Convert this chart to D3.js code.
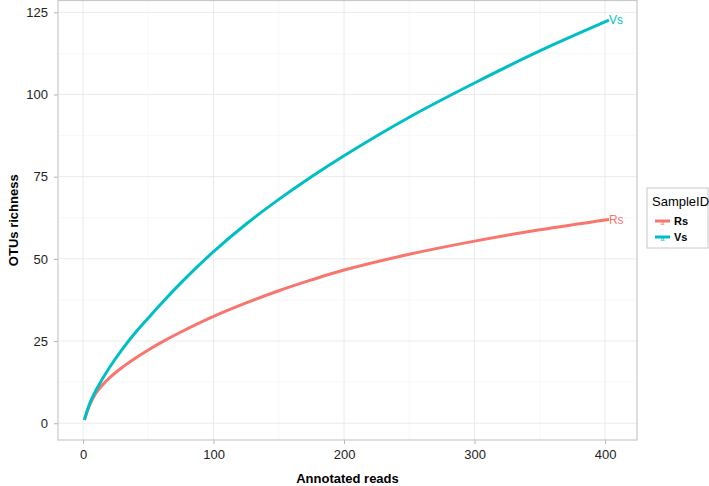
<!DOCTYPE html>
<html>
<head>
<meta charset="utf-8">
<script src="https://cdn.jsdelivr.net/npm/d3@7"></script>
<style>
  body { margin: 0; background: #fff; }
  text { font-family: "Liberation Sans", Arial, sans-serif; }
</style>
</head>
<body>
<div id="chart"></div>
<script>
// data
var reads = [1, 5, 10, 20, 30, 40, 50, 60, 75, 100, 125, 150, 175, 200, 250, 300, 350, 403]
var vsRichness = [1, 5.9, 10.1, 16.8, 22.5, 27.5, 32.0, 36.4, 42.7, 52.2, 60.6, 68.1, 75.0, 81.4, 93.1, 103.5, 113.25, 122.6]
var rsRichness = [1, 5.4, 9.2, 13.7, 17.0, 19.8, 22.3, 24.6, 27.75, 32.5, 36.6, 40.3, 43.6, 46.6, 51.4, 55.4, 58.85, 62.0]
var sampleIds = ["Rs", "Vs"]
var colors = ["#F8766D", "#00BFC4"]
var xTicks = [0, 100, 200, 300, 400]
var yTicks = [0, 25, 50, 75, 100, 125]

var width = 709
var height = 486
var panel = { left: 58, top: 0.5, right: 637, bottom: 440 }

var svg = d3.select("#chart")
  .append("svg")
  .attr("width", width)
  .attr("height", height)

var x = d3.scaleLinear()
  .domain([-19.2, 424.5])
  .range([panel.left, panel.right])

var y = d3.scaleLinear()
  .domain([-5.1, 128.6])
  .range([panel.bottom, panel.top])

var series = [
  { id: sampleIds[0], color: colors[0], values: rsRichness },
  { id: sampleIds[1], color: colors[1], values: vsRichness }
]

// grid
var grid = svg.append("g")
var minorX = xTicks.slice(0, -1).map(function (d) { return d + 50 })
var minorY = yTicks.slice(0, -1).map(function (d) { return d + 12.5 })

grid.selectAll(".minx").data(minorX).enter().append("line")
  .attr("x1", function (d) { return x(d) }).attr("x2", function (d) { return x(d) })
  .attr("y1", panel.top).attr("y2", panel.bottom)
  .attr("stroke", "#f3f3f3").attr("stroke-width", 0.6)
grid.selectAll(".miny").data(minorY).enter().append("line")
  .attr("y1", function (d) { return y(d) }).attr("y2", function (d) { return y(d) })
  .attr("x1", panel.left).attr("x2", panel.right)
  .attr("stroke", "#f3f3f3").attr("stroke-width", 0.6)
grid.selectAll(".majx").data(xTicks).enter().append("line")
  .attr("x1", function (d) { return x(d) }).attr("x2", function (d) { return x(d) })
  .attr("y1", panel.top).attr("y2", panel.bottom)
  .attr("stroke", "#ebebeb").attr("stroke-width", 1)
grid.selectAll(".majy").data(yTicks).enter().append("line")
  .attr("y1", function (d) { return y(d) }).attr("y2", function (d) { return y(d) })
  .attr("x1", panel.left).attr("x2", panel.right)
  .attr("stroke", "#ebebeb").attr("stroke-width", 1)

// axes
var xAxis = svg.append("g")
  .attr("transform", "translate(0," + panel.bottom + ")")
  .call(d3.axisBottom(x).tickValues(xTicks).tickSize(4).tickPadding(6))
var yAxis = svg.append("g")
  .attr("transform", "translate(" + panel.left + ",0)")
  .call(d3.axisLeft(y).tickValues(yTicks).tickSize(4).tickPadding(6))

;[xAxis, yAxis].forEach(function (a) {
  a.select(".domain").remove()
  a.selectAll("line").attr("stroke", "#b3b3b3")
  a.selectAll("text").attr("fill", "#222").style("font-size", "13px")
    .style("font-family", "Liberation Sans, Arial, sans-serif")
})

// panel border
svg.append("rect")
  .attr("x", panel.left).attr("y", panel.top)
  .attr("width", panel.right - panel.left)
  .attr("height", panel.bottom - panel.top)
  .attr("fill", "none")
  .attr("stroke", "#c8c8c8")
  .attr("stroke-width", 1.2)

// curves
var line = d3.line()
  .x(function (d, i) { return x(reads[i]) })
  .y(function (d) { return y(d) })
  .curve(d3.curveCatmullRom.alpha(0.5))

svg.append("g").selectAll("path")
  .data(series)
  .enter()
  .append("path")
  .attr("d", function (d) { return line(d.values) })
  .attr("fill", "none")
  .attr("stroke", function (d) { return d.color })
  .attr("stroke-width", 3)
  .attr("stroke-linecap", "butt")

// end labels
svg.append("g").selectAll("text")
  .data(series)
  .enter()
  .append("text")
  .attr("x", function (d) { return x(reads[reads.length - 1]) })
  .attr("y", function (d) { return y(d.values[d.values.length - 1]) })
  .attr("dy", "0.35em")
  .attr("fill", function (d) { return d.color })
  .style("font-size", "12px")
  .text(function (d) { return d.id })

// axis titles
svg.append("text")
  .attr("x", (panel.left + panel.right) / 2)
  .attr("y", 483)
  .attr("text-anchor", "middle")
  .style("font-size", "13px")
  .style("font-weight", "bold")
  .text("Annotated reads")

svg.append("text")
  .attr("transform", "translate(18," + (panel.top + panel.bottom) / 2 + ") rotate(-90)")
  .attr("text-anchor", "middle")
  .style("font-size", "13px")
  .style("font-weight", "bold")
  .text("OTUs richness")

// legend
var legend = svg.append("g").attr("transform", "translate(647,188)")
legend.append("rect")
  .attr("x", 0).attr("y", 0)
  .attr("width", 61).attr("height", 60)
  .attr("fill", "#fff")
  .attr("stroke", "#c8c8c8")
  .attr("stroke-width", 1)
legend.append("text")
  .attr("x", 5).attr("y", 18)
  .style("font-size", "13px")
  .text("SampleID")

var keys = legend.selectAll(".key")
  .data(series)
  .enter()
  .append("g")
  .attr("transform", function (d, i) { return "translate(0," + (33 + i * 16) + ")" })
keys.append("line")
  .attr("x1", 8).attr("x2", 23)
  .attr("y1", 0).attr("y2", 0)
  .attr("stroke", function (d) { return d.color })
  .attr("stroke-width", 3)
keys.append("text")
  .attr("x", 15.5).attr("y", 4)
  .attr("text-anchor", "middle")
  .attr("fill", function (d) { return d.color })
  .style("font-size", "7px")
  .text("a")
keys.append("text")
  .attr("x", 27).attr("y", 0)
  .attr("dy", "0.35em")
  .style("font-size", "11px")
  .style("font-weight", "bold")
  .text(function (d) { return d.id })
</script>
</body>
</html>
